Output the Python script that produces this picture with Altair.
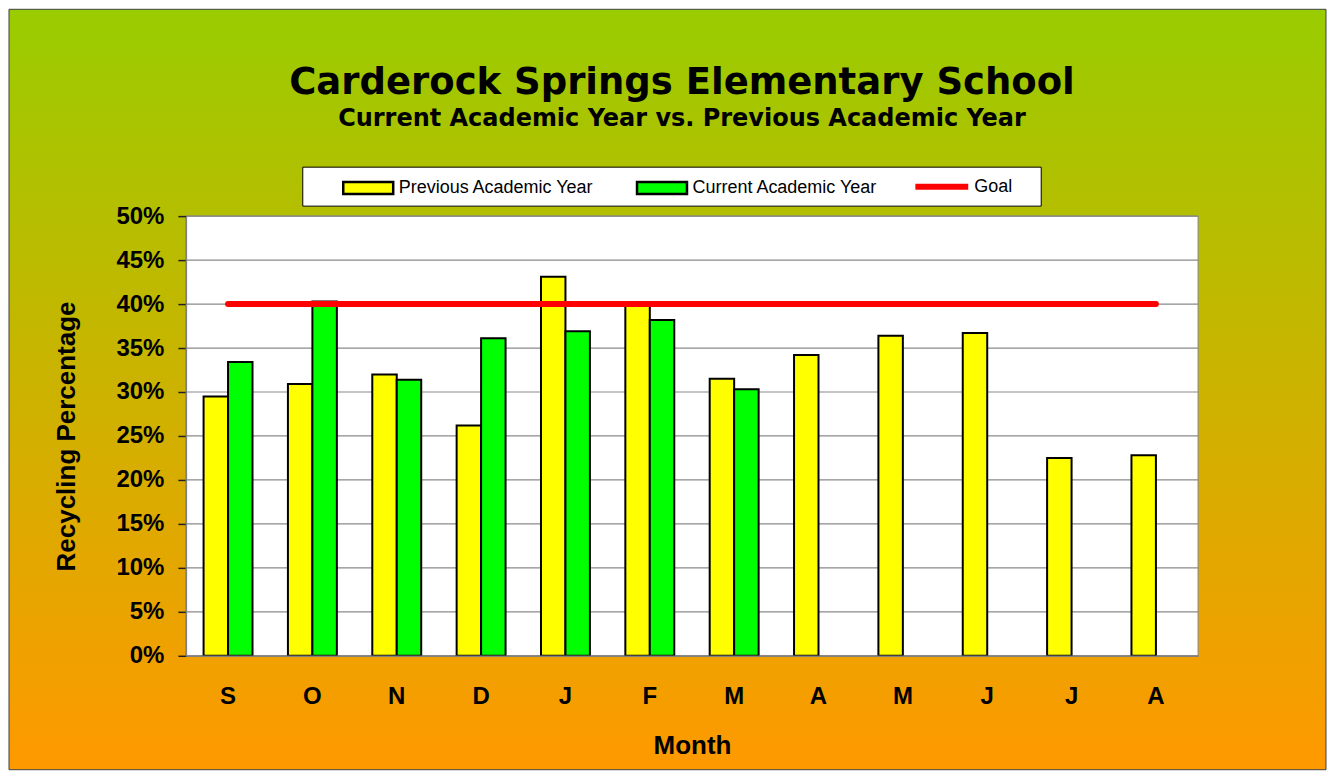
import altair as alt
import pandas as pd

# ---------------- data ----------------
months = ["Sep", "Oct", "Nov", "Dec", "Jan", "Feb", "Mar", "Apr", "May", "Jun", "Jul", "Aug"]
month_labels = ["S", "O", "N", "D", "J", "F", "M", "A", "M", "J", "J", "A"]
previous_year = [0.295, 0.309, 0.320, 0.262, 0.431, 0.399, 0.315, 0.342, 0.364, 0.367, 0.225, 0.228]
current_year = [0.334, 0.403, 0.314, 0.361, 0.369, 0.382, 0.303, None, None, None, None, None]
goal = [0.40, 0.40, 0.40, 0.40, 0.40, 0.40, 0.40, 0.40, 0.40, 0.40, 0.40, 0.40]
y_ticks = [0.0, 0.05, 0.10, 0.15, 0.20, 0.25, 0.30, 0.35, 0.40, 0.45, 0.50]
bar_series = ["Previous Academic Year", "Current Academic Year"]
bar_colors = ["#FFFF00", "#00FF00"]
goal_series = ["Goal"]
goal_colors = ["#FF0000"]

rows = []
for m, p, c in zip(months, previous_year, current_year):
    if p is not None:
        rows.append({"month": m, "series": bar_series[0], "value": p})
    if c is not None:
        rows.append({"month": m, "series": bar_series[1], "value": c})
bars_df = pd.DataFrame(rows)
goal_df = pd.DataFrame({"month": months, "value": goal, "name": goal_series * len(months)})
grid_df = pd.DataFrame({"value": y_ticks})

W, H = 1013, 440
FONT = "Liberation Sans"

labels_js = "[" + ",".join("'%s'" % l for l in month_labels) + "]"
months_js = "[" + ",".join("'%s'" % m for m in months) + "]"

x_axis = alt.Axis(
    title="Month",
    labelExpr=f"{labels_js}[indexof({months_js}, datum.value)]",
    labelAngle=0,
    labelFont=FONT, labelFontSize=24, labelFontWeight="bold", labelColor="black",
    labelPadding=29,
    ticks=False,
    domainColor="#808080", domainWidth=1.5,
    titleFont=FONT, titleFontSize=26, titleFontWeight="bold", titleColor="black",
    titlePadding=24,
    grid=False, zindex=1,
)
x_scale = alt.Scale(domain=months, paddingInner=0.42, paddingOuter=0.21)
y_axis = alt.Axis(
    title="Recycling Percentage",
    values=y_ticks, format=".0%",
    labelFont=FONT, labelFontSize=24, labelFontWeight="bold", labelColor="black",
    labelPadding=14,
    tickSize=8, tickColor="#202020", tickWidth=1.5,
    domainColor="#808080", domainWidth=1.5,
    titleFont=FONT, titleFontSize=26, titleFontWeight="bold", titleColor="black",
    titlePadding=36,
    grid=False, zindex=1,
)
y_scale = alt.Scale(domain=[0, 0.5], nice=False)

gradient = alt.LinearGradient(
    gradient="linear",
    stops=[alt.GradientStop(color="#99CC00", offset=0),
           alt.GradientStop(color="#FF9900", offset=1)],
    x1=0, x2=0, y1=0, y2=1,
)

one = alt.Data(values=[{}])

background = alt.Chart(one).mark_rect(fill=gradient, stroke="#404040", strokeWidth=1).encode(
    x=alt.value(-177), x2=alt.value(1141), y=alt.value(-207), y2=alt.value(554)
)
plot_bg = alt.Chart(one).mark_rect(fill="white", stroke="#808080", strokeWidth=1).encode(
    x=alt.value(0), x2=alt.value(W), y=alt.value(0), y2=alt.value(H)
)
legend_box = alt.Chart(one).mark_rect(fill="white", stroke="black", strokeWidth=1).encode(
    x=alt.value(117), x2=alt.value(856), y=alt.value(-49), y2=alt.value(-10)
)
grid = alt.Chart(grid_df).mark_rule(color="#8a8a8a", strokeWidth=1.2).encode(
    y=alt.Y("value:Q", scale=y_scale, axis=y_axis)
)

swatch = "M-1,-0.24H1V0.24H-1Z"
bar_legend = alt.Legend(
    title=None,
    orient="none",
    legendX=156,
    legendY=-55,
    direction="horizontal",
    symbolType=swatch,
    symbolSize=2500,
    symbolStrokeColor="black",
    symbolStrokeWidth=2.5,
    symbolOpacity=1,
    labelFont=FONT,
    labelFontSize=18,
    labelColor="black",
    labelOffset=4,
    labelLimit=400,
    columnPadding=37,
    padding=0,
)
goal_legend = alt.Legend(
    title=None,
    orient="none",
    legendX=727,
    legendY=-59,
    direction="horizontal",
    symbolType="stroke",
    symbolSize=2800,
    symbolStrokeWidth=6,
    labelFont=FONT,
    labelFontSize=18,
    labelColor="black",
    labelOffset=3,
    labelLimit=400,
    padding=0,
)

bars = alt.Chart(bars_df).mark_bar(stroke="black", strokeWidth=2, opacity=1).encode(
    x=alt.X("month:N", sort=months, scale=x_scale, axis=x_axis),
    xOffset=alt.XOffset("series:N", sort=bar_series,
                        scale=alt.Scale(domain=bar_series, paddingInner=0, paddingOuter=0)),
    y=alt.Y("value:Q", scale=y_scale, axis=y_axis),
    fill=alt.Fill("series:N", scale=alt.Scale(domain=bar_series, range=bar_colors), legend=bar_legend),
)

goal_line = alt.Chart(goal_df).mark_line(strokeWidth=6, strokeCap="round").encode(
    x=alt.X("month:N", sort=months, scale=x_scale, axis=x_axis),
    y=alt.Y("value:Q", scale=y_scale, axis=y_axis),
    stroke=alt.Stroke("name:N", scale=alt.Scale(domain=goal_series, range=goal_colors), legend=goal_legend),
)

chart = alt.layer(background, plot_bg, legend_box, grid, bars, goal_line).properties(
    width=W,
    height=H,
    padding=0,
    title=alt.TitleParams(
        text="Carderock Springs Elementary School",
        subtitle="Current Academic Year vs. Previous Academic Year",
        font="DejaVu Sans", fontSize=37, fontWeight="bold", color="black",
        subtitleFont="DejaVu Sans", subtitleFontSize=24, subtitleFontWeight="bold",
        subtitleColor="black", subtitlePadding=5,
        anchor="middle", dx=-10, offset=-123,
    ),
).resolve_scale(fill="independent", stroke="independent").configure_view(stroke=None).configure(background="white")

chart.save("out.html", embed_options={"renderer": "svg", "actions": False})
